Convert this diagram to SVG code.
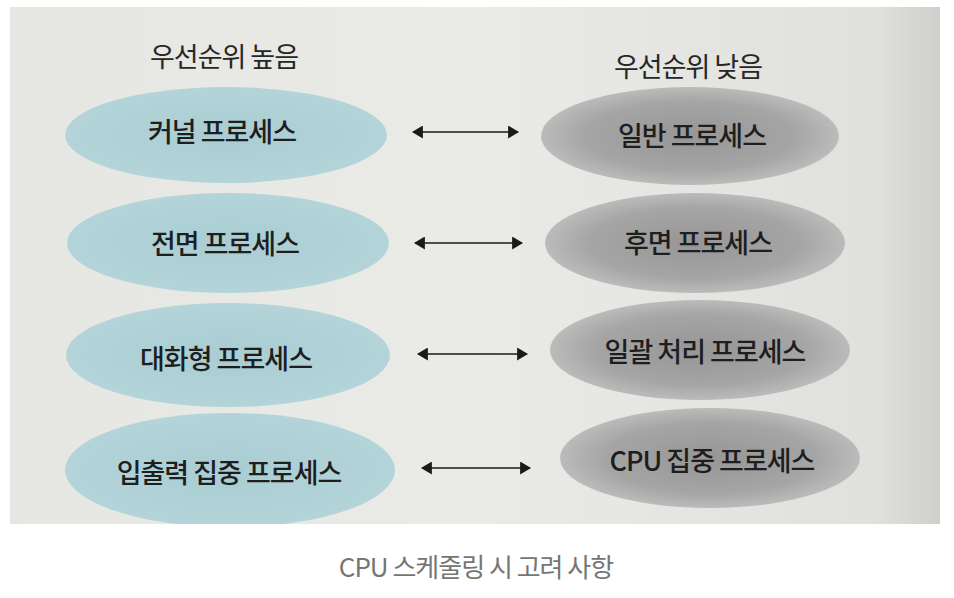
<svg xmlns="http://www.w3.org/2000/svg" width="954" height="598" viewBox="0 0 954 598">
<defs>
<style>
.t{font-family:"Noto Sans CJK KR","Noto Sans",sans-serif;font-size:27px;font-weight:500;fill:#1e1e1e;text-anchor:middle;dominant-baseline:central;letter-spacing:-1px}
.h{font-family:"Noto Sans CJK KR","Noto Sans",sans-serif;font-size:27px;fill:#262626;text-anchor:middle;dominant-baseline:central;letter-spacing:-1px}
.hi{fill:url(#blue)}
.lo{fill:url(#gray)}
.arr{stroke:#1a1a1a;stroke-width:1.6;fill:none;marker-start:url(#ah);marker-end:url(#ah)}
</style>
<clipPath id="photo"><rect x="10" y="7" width="930" height="517"/></clipPath>
<linearGradient id="paper" x1="0" y1="0" x2="1" y2="0">
<stop offset="0" stop-color="#e6e6e3"/>
<stop offset="0.5" stop-color="#eaeae7"/>
<stop offset="0.93" stop-color="#e0e0dd"/>
<stop offset="1" stop-color="#cfcfcc"/>
</linearGradient>
<radialGradient id="blue" cx="0.5" cy="0.5" r="0.5">
<stop offset="0" stop-color="#a9cdd3"/>
<stop offset="1" stop-color="#b3d4d9"/>
</radialGradient>
<radialGradient id="gray" cx="0.5" cy="0.5" r="0.5">
<stop offset="0" stop-color="#969696"/>
<stop offset="0.7" stop-color="#a5a5a5"/>
<stop offset="1" stop-color="#bbbbbb"/>
</radialGradient>
<marker id="ah" viewBox="0 0 10 10" refX="9" refY="5" markerWidth="11" markerHeight="13" orient="auto-start-reverse" markerUnits="userSpaceOnUse" preserveAspectRatio="none">
<path d="M0,0 L10,5 L0,10 Z" fill="#1a1a1a"/>
</marker>
</defs>
<rect x="0" y="0" width="954" height="598" fill="#ffffff"/>
<rect x="10" y="7" width="930" height="517" fill="url(#paper)"/>

<g id="header-high"><text class="h" x="224" y="55">우선순위 높음</text></g>
<g id="header-low"><text class="h" x="688" y="65">우선순위 낮음</text></g>

<g id="kernel"><ellipse class="hi" cx="226" cy="135" rx="161" ry="48"/><text class="t" x="222" y="130">커널 프로세스</text></g>
<g id="normal"><ellipse class="lo" cx="690" cy="136" rx="149" ry="49"/><text class="t" x="692" y="134">일반 프로세스</text></g>
<g id="foreground"><ellipse class="hi" cx="228" cy="243" rx="161" ry="50"/><text class="t" x="225" y="242">전면 프로세스</text></g>
<g id="background"><ellipse class="lo" cx="695" cy="243" rx="150" ry="50"/><text class="t" x="698" y="241">후면 프로세스</text></g>
<g id="interactive"><ellipse class="hi" cx="228" cy="355" rx="162" ry="52"/><text class="t" x="226" y="357">대화형 프로세스</text></g>
<g id="batch"><ellipse class="lo" cx="700" cy="350" rx="150" ry="50"/><text class="t" x="705" y="350">일괄 처리 프로세스</text></g>
<g id="io-bound"><ellipse class="hi" cx="230" cy="470" rx="165" ry="57" clip-path="url(#photo)"/><text class="t" x="229" y="471">입출력 집중 프로세스</text></g>
<g id="cpu-bound"><ellipse class="lo" cx="710" cy="458" rx="150" ry="50"/><text class="t" x="712" y="459">CPU 집중 프로세스</text></g>

<g id="connectors">
<line class="arr" x1="413" y1="132" x2="518" y2="132"/>
<line class="arr" x1="415" y1="243" x2="522" y2="243"/>
<line class="arr" x1="418" y1="354" x2="527" y2="354"/>
<line class="arr" x1="422" y1="468" x2="530" y2="468"/>
</g>

<g id="caption"><text x="476" y="565" font-family="Noto Sans CJK KR, Noto Sans, sans-serif" font-size="26" fill="#757575" text-anchor="middle" dominant-baseline="central" letter-spacing="-1">CPU 스케줄링 시 고려 사항</text></g>
</svg>
